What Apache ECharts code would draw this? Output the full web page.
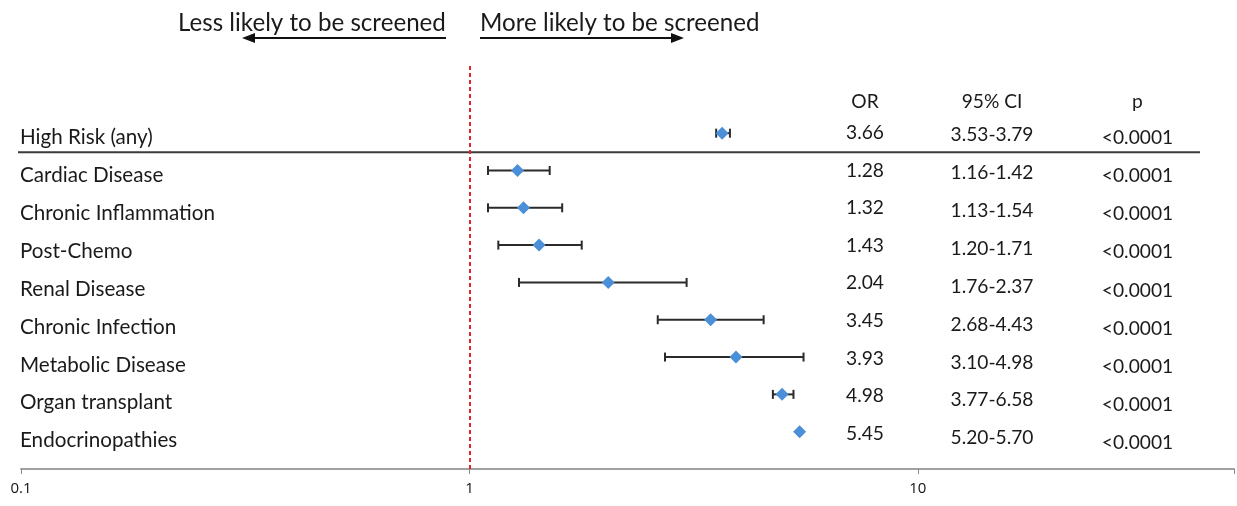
<!DOCTYPE html>
<html><head><meta charset="utf-8">
<script src="https://cdn.jsdelivr.net/npm/echarts@6/dist/echarts.min.js"></script>
<style>html,body{margin:0;padding:0;background:#fff}#c{width:1237px;height:506px}</style>
</head><body><div id="c"></div>
<script>
// ---- data ----
const categories = ['High Risk (any)','Cardiac Disease','Chronic Inflammation','Post-Chemo','Renal Disease','Chronic Infection','Metabolic Disease','Organ transplant','Endocrinopathies'];
const orValues = [3.66,1.28,1.32,1.43,2.04,3.45,3.93,4.98,5.45];
const ciLow  = [3.55,1.10,1.10,1.16,1.29,2.63,2.73,4.75,5.45];
const ciHigh = [3.81,1.51,1.61,1.78,3.05,4.53,5.56,5.28,5.45];
const orLabels = ['3.66','1.28','1.32','1.43','2.04','3.45','3.93','4.98','5.45'];
const ciLabels = ['3.53-3.79','1.16-1.42','1.13-1.54','1.20-1.71','1.76-2.37','2.68-4.43','3.10-4.98','3.77-6.58','5.20-5.70'];
const pLabels = ['<0.0001','<0.0001','<0.0001','<0.0001','<0.0001','<0.0001','<0.0001','<0.0001','<0.0001'];
const headers = ['OR','95% CI','p'];
const xTickLabels = [0.1, 1, 10];
const xMin = 0.1, xMax = 50.7;
const referenceOR = 1;
const leftNote = 'Less likely to be screened';
const rightNote = 'More likely to be screened';

// ---- style ----
const FONT = 'Lato';
const AXFONT = 'Open Sans';
function fitSize(txt, w, fam){ const c=document.createElement('canvas').getContext('2d'); c.font='100px "'+fam+'"'; return +(100*w/c.measureText(txt).width).toFixed(2); }
const topSize = fitSize(leftNote, 268, FONT);
const rowSize = fitSize('Chronic Inflammation', 195, FONT);
const tabSize = fitSize('3.53-3.79', 83, FONT);
const axSize = 15;
const TXT = '#1a1a1a';

const chart = echarts.init(document.getElementById('c'), null, {renderer:'canvas'});

const cols = [
  {x:865,   k:1.009, b:-0.013, arr:orLabels},
  {x:992,   k:1.017, b:0.04,   arr:ciLabels},
  {x:1137.5,k:1.023, b:0.12,   arr:pLabels}
];

chart.setOption({
  animation:false,
  backgroundColor:'#fff',
  grid:{left:21, right:0, top:66, bottom:37},
  xAxis:{
    type:'log', logBase:10, min:xMin, max:xMax,
    axisLine:{show:true, onZero:false, lineStyle:{color:'#a0a0a0', width:2}},
    axisTick:{show:true, length:5, lineStyle:{color:'#8a8a8a', width:1}},
    splitLine:{show:false},
    axisLabel:{color:'#111', fontFamily:AXFONT, fontSize:axSize, margin:12,
      formatter:v=>{ const t=xTickLabels.find(t=>Math.abs(t-v)/t<1e-6); return t===undefined?'':String(t);} }
  },
  yAxis:{type:'value', inverse:true, min:-1.8, max:9, show:false},
  graphic:[
    {type:'text', left:178, top:11, style:{text:leftNote, fontFamily:FONT, fontSize:topSize, fill:TXT}},
    {type:'text', left:480, top:11, style:{text:rightNote, fontFamily:FONT, fontSize:topSize, fill:TXT}},
    {type:'line', shape:{x1:446,y1:38,x2:252,y2:38}, style:{stroke:'#111', lineWidth:2}},
    {type:'polygon', shape:{points:[[242,38],[255,33],[255,43]]}, style:{fill:'#111'}},
    {type:'line', shape:{x1:480,y1:38,x2:673,y2:38}, style:{stroke:'#111', lineWidth:2}},
    {type:'polygon', shape:{points:[[684,38],[671,33],[671,43]]}, style:{fill:'#111'}}
  ],
  series:[
    { // header + separator
      type:'custom', silent:true, z:1,
      data:[[1,-0.846]],
      encode:{x:0,y:1},
      renderItem:(params, api)=>{
        const y = api.coord([1, api.value(1)])[1];
        const ySep = api.coord([1, 0.51])[1];
        const ch = headers.map((h,j)=>({type:'text', x:cols[j].x, y:y,
          style:{text:h, fontFamily:FONT, fontSize:tabSize, fill:TXT, align:'center', verticalAlign:'middle'}}));
        ch.push({type:'line', shape:{x1:18,y1:ySep,x2:1200,y2:ySep}, style:{stroke:'#3a3a3a', lineWidth:2}});
        return {type:'group', children:ch};
      }
    },
    { // table rows and labels
      type:'custom', silent:true, z:1,
      data:categories.map((c,i)=>[1,i]),
      encode:{x:0,y:1},
      renderItem:(params, api)=>{
        const i = params.dataIndex;
        const yAt = v=>api.coord([1, v])[1];
        const ch = [{type:'text', x:20, y:yAt(i*1.017+0.107),
          style:{text:categories[i], fontFamily:FONT, fontSize:rowSize, fill:TXT, align:'left', verticalAlign:'middle'}}];
        cols.forEach(c=>ch.push({type:'text', x:c.x, y:yAt(i*c.k+c.b),
          style:{text:c.arr[i], fontFamily:FONT, fontSize:tabSize, fill:TXT, align:'center', verticalAlign:'middle'}}));
        return {type:'group', children:ch};
      }
    },
    { // whiskers
      type:'custom', silent:true, z:2,
      data:categories.map((c,i)=>[ciLow[i], ciHigh[i], i]),
      encode:{x:[0,1], y:2},
      renderItem:(params, api)=>{
        const lo = api.coord([api.value(0), api.value(2)]);
        const hi = api.coord([api.value(1), api.value(2)]);
        const h = 4.5, st = {stroke:'#2b2b2b', lineWidth:2};
        return {type:'group', children:[
          {type:'line', shape:{x1:lo[0],y1:lo[1],x2:hi[0],y2:hi[1]}, style:st},
          {type:'line', shape:{x1:lo[0],y1:lo[1]-h,x2:lo[0],y2:lo[1]+h}, style:st},
          {type:'line', shape:{x1:hi[0],y1:hi[1]-h,x2:hi[0],y2:hi[1]+h}, style:st}
        ]};
      }
    },
    { // OR markers + reference line
      type:'scatter', z:3,
      symbol:'diamond', symbolSize:[13,13],
      itemStyle:{color:'#4a8fd8', opacity:1},
      data:categories.map((c,i)=>[orValues[i], i]),
      markLine:{silent:true, symbol:['none','none'], label:{show:false},
        lineStyle:{color:'#e3262e', type:[4,3], width:2},
        data:[{xAxis:referenceOR}]}
    }
  ]
});
</script></body></html>
